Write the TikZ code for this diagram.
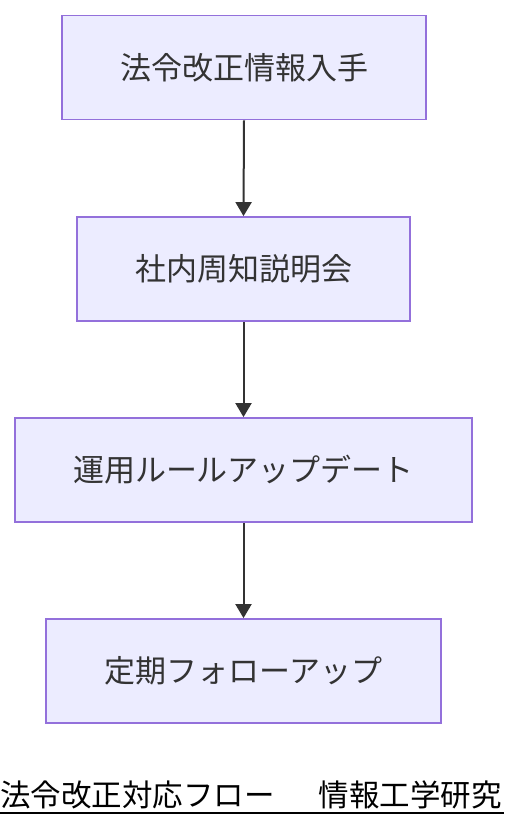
\documentclass[tikz,border=0pt]{standalone}
\usepackage{fontspec}
\setmainfont{Noto Sans CJK JP}
\usetikzlibrary{arrows.meta}
\begin{document}
\begin{tikzpicture}[x=1pt,y=-1pt,
  flowbox/.style={draw=boxborder, fill=boxfill, line width=1.8pt, rectangle,
    minimum height=104pt, inner sep=0pt, text=textgray,
    font=\fontsize{31}{36}\selectfont},
  flowarrow/.style={draw=arrowgray, line width=2pt, -{Triangle[width=16pt,length=14pt]}}]
\definecolor{boxborder}{HTML}{9370DB}
\definecolor{boxfill}{HTML}{ECECFF}
\definecolor{textgray}{HTML}{333333}
\definecolor{arrowgray}{HTML}{333333}
\useasboundingbox (0,0) rectangle (504,828);
\clip (0,0) rectangle (504,828);
\fill[white] (0,0) rectangle (504,828);
\node[flowbox, minimum width=364pt] (n1) at (244,67.5) {法令改正情報入手};
\node[flowbox, minimum width=333pt] (n2) at (243.5,269) {社内周知説明会};
\node[flowbox, minimum width=457pt] (n3) at (243.5,470) {運用ルールアップデート};
\node[flowbox, minimum width=395pt] (n4) at (243.5,671) {定期フォローアップ};
\draw[flowarrow] (n1.south) -- (n2.north);
\draw[flowarrow] (n2.south) -- (n3.north);
\draw[flowarrow] (n3.south) -- (n4.north);
\node[anchor=base west, inner sep=0pt, text=black, font=\fontsize{30.5}{36}\selectfont] (cap) at (0,806) {法令改正対応フロー\hspace{44pt}情報工学研究};
\coordinate (ulL) at (0,813);
\coordinate (ulR) at (504,813);
\draw[black, line width=1.2pt] (ulL) -- (ulR);
\end{tikzpicture}
\end{document}
